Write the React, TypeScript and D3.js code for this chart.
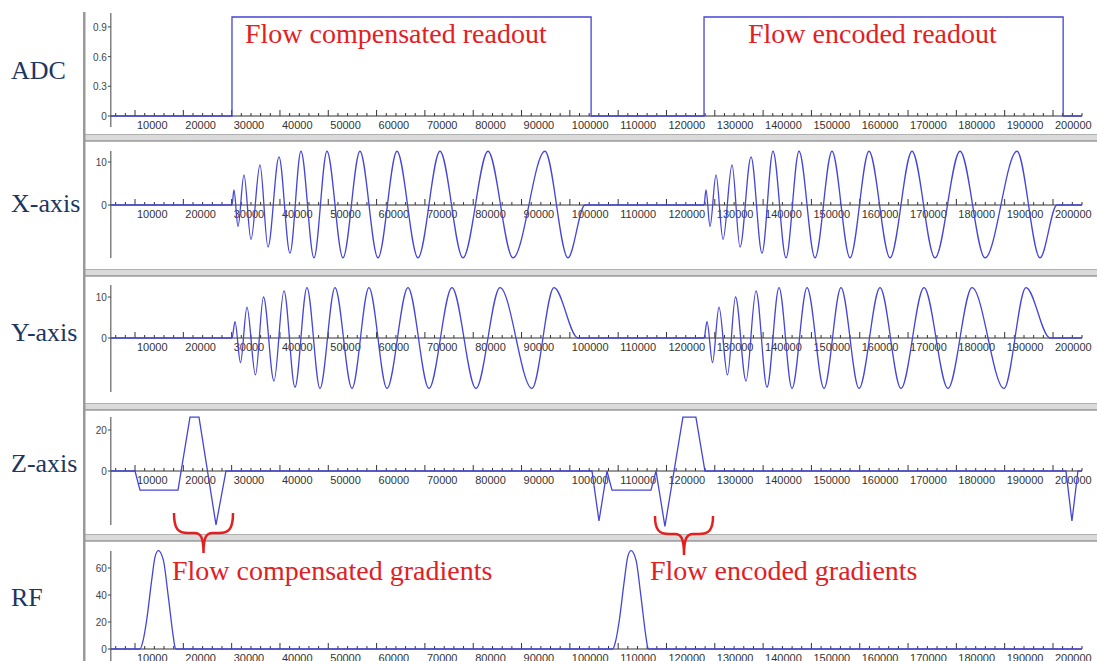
import React from 'react';
import * as d3 from 'd3';

const W = 1097;
const H = 661;

// ---- time axis ----
const majorTicks = d3.range(10000, 200001, 10000);
const minorTicks = d3.range(6000, 206001, 2000).filter((t) => t % 10000 !== 0);
const timeStart = 5000;
const timeEnd = 206000;

// ---- ADC windows ----
const adcStarts = [30070, 127770];
const adcEnds = [104400, 202100];
const adcLevel = 1;

// ---- readout gradients (offsets from each readout start) ----
const readoutStarts = [30070, 127770];
const gxOffsets = [0, 410, 1240, 2480, 3930, 5800, 7450, 9730, 12000, 14280, 16970, 19660, 22970, 26490, 30220, 34150, 38500, 43050, 47810, 52990, 58160, 64780, 69540, 73060];
const gxValues = [0, 3.5, -5, 7, -8, 9.3, -9.8, 11.2, -11.2, 12.5, -12.3, 12.5, -12.3, 12.5, -12.3, 12.5, -12.3, 12.5, -12.3, 12.5, -12.3, 12.5, -12.3, 0];
const gyOffsets = [0, 620, 1760, 3100, 4860, 6520, 8690, 10760, 13040, 15520, 18210, 21320, 24840, 28350, 32080, 36430, 40770, 45530, 50500, 55470, 62090, 66640, 71610];
const gyValues = [0, 4, -6, 7.5, -9, 10, -10.5, 11.5, -12, 12.3, -12.3, 12.3, -12.3, 12.3, -12.3, 12.3, -12.3, 12.3, -12.3, 12.3, -12.3, 12.3, 0];

// ---- slice / flow gradient ----
const gzTimes = [5035, 9997, 11032, 18896, 21380, 23242, 26761, 28830, 104580, 106030, 107680, 108720, 116790, 117830, 119680, 123400, 126090, 127960, 202680, 203920, 205160, 206000];
const gzValues = [0, 0, -9.3, -9.3, 26.3, 26.3, -26.3, 0, 0, -24.4, 0, -9.3, -9.3, 0, -27, 26.3, 26.3, 0, 0, -24.4, 0, 0];

// ---- RF pulses (offsets from pulse centre) ----
const rfCenters = [14820, 112650];
const rfOffsets = [-3785, -3164, -2402, -1367, -684, 0, 1034, 2069, 3104, 3414, 3663];
const rfValues = [0, 6, 21.5, 51, 68, 72.8, 66, 38.8, 9, 2, 0];

// ---- panels ----
const panelNames = ['ADC', 'X-axis', 'Y-axis', 'Z-axis', 'RF'];
const panelTicks = [[0, 0.3, 0.6, 0.9], [0, 10], [0, 10], [0, 20], [0, 20, 40, 60]];

const xScale = d3.scaleLinear().domain([0, 200000]).range([86.7, 1053]);

type Pt = [number, number];

const frames = [
  { zero: 116, refVal: 1, refY: 17, axisTop: 13, axisBottom: 127, labelY: 79 },
  { zero: 205, refVal: 10, refY: 162, axisTop: 151, axisBottom: 258, labelY: 212 },
  { zero: 338, refVal: 10, refY: 297, axisTop: 285, axisBottom: 392, labelY: 341 },
  { zero: 471, refVal: 20, refY: 430, axisTop: 417, axisBottom: 525, labelY: 472 },
  { zero: 649, refVal: 60, refY: 568, axisTop: 551, axisBottom: 670, labelY: 606 },
];

const separators = [134, 269, 403, 534];

function readoutPoints(offsets: number[], values: number[]): Pt[] {
  const pts: Pt[] = [[timeStart, 0]];
  readoutStarts.forEach((s) => {
    offsets.forEach((o, i) => pts.push([s + o, values[i]]));
  });
  pts.push([timeEnd, 0]);
  return pts;
}

function adcPoints(): Pt[] {
  const pts: Pt[] = [[timeStart, 0]];
  adcStarts.forEach((s, i) => {
    pts.push([s, 0], [s, adcLevel], [adcEnds[i], adcLevel], [adcEnds[i], 0]);
  });
  pts.push([timeEnd, 0]);
  return pts;
}

function rfPoints(): Pt[] {
  const pts: Pt[] = [[timeStart, 0]];
  rfCenters.forEach((c) => {
    rfOffsets.forEach((o, i) => pts.push([c + o, rfValues[i]]));
  });
  pts.push([timeEnd, 0]);
  return pts;
}

const zPoints: Pt[] = gzTimes.map((t, i) => [t, gzValues[i]]);

const series: { pts: Pt[]; smooth: boolean }[] = [
  { pts: adcPoints(), smooth: false },
  { pts: readoutPoints(gxOffsets, gxValues), smooth: true },
  { pts: readoutPoints(gyOffsets, gyValues), smooth: true },
  { pts: zPoints, smooth: false },
  { pts: rfPoints(), smooth: true },
];

function brace(x0: number, x1: number, top: number, mid: number, tip: number) {
  const c = (x0 + x1) / 2;
  return `M${x0},${top} C${x0},${mid - 4} ${x0 + 4},${mid} ${x0 + 14},${mid} L${c - 9},${mid} C${c - 3},${mid} ${c},${mid + 4} ${c},${tip} C${c},${mid + 4} ${c + 3},${mid} ${c + 9},${mid} L${x1 - 14},${mid} C${x1 - 4},${mid} ${x1},${mid - 4} ${x1},${top}`;
}

const tickFont = '"Liberation Sans", Arial, sans-serif';
const serif = '"Liberation Serif", "Times New Roman", serif';
const red = '#e3201f';
const navy = '#1d3660';
const lineBlue = '#4545d6';

export default function App() {
  const axisX = xScale(timeStart);
  const axisEnd = xScale(timeEnd);
  return (
    <svg width={W} height={H} style={{ position: 'absolute', left: 0, top: 0, background: '#fff' }}>
      <rect width={W} height={H} fill="#fff" />
      {/* window separators */}
      {separators.map((y, i) => (
        <g key={'sep' + i}>
          <rect x={84} y={y} width={W - 84} height={7} fill="#dadada" />
          <line x1={84} x2={W} y1={y + 0.5} y2={y + 0.5} stroke="#b0b0b0" />
          <line x1={84} x2={W} y1={y + 7} y2={y + 7} stroke="#6e6e6e" strokeWidth={1.2} />
        </g>
      ))}
      <rect x={83} y={12} width={2.5} height={H - 12} fill="#9a9a9a" />

      {frames.map((f, pi) => {
        const y = d3.scaleLinear().domain([0, f.refVal]).range([f.zero, f.refY]);
        const line = d3
          .line<Pt>()
          .x((d) => xScale(d[0]))
          .y((d) => y(d[1]))
          .curve(series[pi].smooth ? d3.curveMonotoneX : d3.curveLinear);
        return (
          <g key={panelNames[pi]}>
            <text x={11} y={f.labelY} fontFamily={serif} fontSize={26} fill={navy}>
              {panelNames[pi]}
            </text>
            {/* vertical axis */}
            <line x1={axisX} x2={axisX} y1={f.axisTop} y2={f.axisBottom} stroke="#444" strokeWidth={1} />
            {panelTicks[pi].map((t) => (
              <g key={t}>
                <line x1={axisX - 3} x2={axisX} y1={y(t)} y2={y(t)} stroke="#444" />
                <text x={axisX - 4} y={y(t) + 4} textAnchor="end" fontFamily={tickFont} fontSize={10} fill="#444">
                  {String(t)}
                </text>
              </g>
            ))}
            {/* time axis */}
            <line x1={axisX} x2={axisEnd} y1={f.zero} y2={f.zero} stroke="#333" strokeWidth={1} />
            {minorTicks.map((t) => (
              <line key={'m' + t} x1={xScale(t)} x2={xScale(t)} y1={f.zero - 3} y2={f.zero} stroke="#333" />
            ))}
            {majorTicks.map((t) => (
              <g key={'M' + t}>
                <line x1={xScale(t)} x2={xScale(t)} y1={f.zero - 6} y2={f.zero} stroke="#333" />
                <text x={xScale(t) + 2} y={f.zero + 13} fontFamily={tickFont} fontSize={11} fill="#333">
                  {String(t)}
                </text>
              </g>
            ))}
            <path d={line(series[pi].pts) || ''} fill="none" stroke={lineBlue} strokeWidth={1.3} />
          </g>
        );
      })}

      {/* annotations */}
      <text x={245} y={43} fontFamily={serif} fontSize={28} fill={red}>Flow compensated readout</text>
      <text x={748} y={43} fontFamily={serif} fontSize={28} fill={red}>Flow encoded readout</text>
      <text x={172} y={580} fontFamily={serif} fontSize={28} fill={red}>Flow compensated gradients</text>
      <text x={650} y={580} fontFamily={serif} fontSize={28} fill={red}>Flow encoded gradients</text>
      <path d={brace(174, 233, 513, 533, 553)} fill="none" stroke={red} strokeWidth={2.5} />
      <path d={brace(655, 713, 516, 534, 555)} fill="none" stroke={red} strokeWidth={2.5} />
    </svg>
  );
}
